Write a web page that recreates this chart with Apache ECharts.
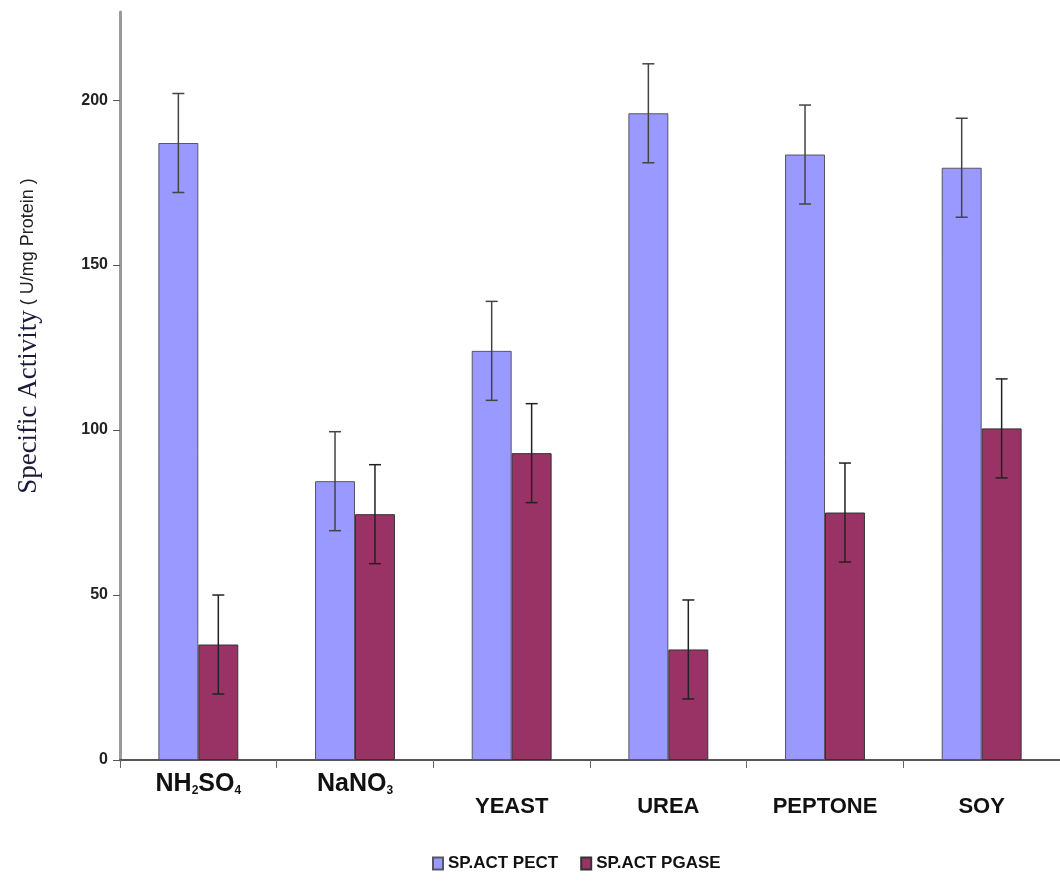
<!DOCTYPE html>
<html>
<head>
<meta charset="utf-8">
<script src="https://cdn.jsdelivr.net/npm/echarts@6/dist/echarts.min.js"></script>
<style>html,body{margin:0;padding:0;background:#fff}#c{width:1060px;height:886px}</style>
</head>
<body>
<div id="c"></div>
<script>
const categories = ['NH2SO4', 'NaNO3', 'YEAST', 'UREA', 'PEPTONE', 'SOY'];
const pectValues = [187, 84.5, 124, 196, 183.5, 179.5];
const pgaseValues = [35, 74.5, 93, 33.5, 75, 100.5];
const pectError = [15, 15, 15, 15, 15, 15];
const pgaseError = [15, 15, 15, 15, 15, 15];
const yTicks = [0, 50, 100, 150, 200];
const seriesNames = ['SP.ACT PECT', 'SP.ACT PGASE'];

const GAP = 0.49;
function errData(vals, errs) {
  return vals.map((v, i) => [i, v - errs[i], v + errs[i]]);
}
function errRender(side, color) {
  return function (params, api) {
    const idx = api.value(0);
    const band = api.size([1, 0])[0];
    const bw = band * (1 - GAP) / 2;
    const lo = api.coord([idx, api.value(1)]);
    const hi = api.coord([idx, api.value(2)]);
    const x = lo[0] + side * bw / 2;
    const cap = 6;
    const style = { stroke: color, lineWidth: 1.5 };
    return {
      type: 'group',
      children: [
        { type: 'line', shape: { x1: x, y1: lo[1], x2: x, y2: hi[1] }, style },
        { type: 'line', shape: { x1: x - cap, y1: lo[1], x2: x + cap, y2: lo[1] }, style },
        { type: 'line', shape: { x1: x - cap, y1: hi[1], x2: x + cap, y2: hi[1] }, style }
      ]
    };
  };
}

const SANS = 'Liberation Sans, Arial, sans-serif';
const chart = echarts.init(document.getElementById('c'), null, { renderer: 'canvas' });
chart.setOption({
  backgroundColor: '#ffffff',
  animation: false,
  legend: {
    data: seriesNames,
    left: 427,
    top: 850,
    itemWidth: 10,
    itemHeight: 12,
    itemGap: 22,
    icon: 'rect',
    textStyle: { fontFamily: SANS, fontWeight: 'bold', fontSize: 17, color: '#111' }
  },
  grid: { left: 120, top: 12, width: 944, height: 748 },
  xAxis: {
    type: 'category',
    data: categories,
    axisLine: { lineStyle: { color: '#555', width: 2 } },
    axisTick: { show: true, length: 8, lineStyle: { color: '#666', width: 1 } },
    axisLabel: {
      margin: 12,
      interval: 0,
      formatter: function (v) {
        if (v === 'NH2SO4') return '{m|NH}{s|2}{m|SO}{s|4}';
        if (v === 'NaNO3') return '{m|NaNO}{s|3}';
        return '{b|' + v + '}';
      },
      rich: {
        m: { fontFamily: SANS, fontWeight: 'bold', fontSize: 25, color: '#111' },
        s: { fontFamily: SANS, fontWeight: 'bold', fontSize: 12, color: '#111', verticalAlign: 'bottom' },
        b: { fontFamily: SANS, fontWeight: 'bold', fontSize: 22, color: '#111', padding: [24, 0, 0, 0] }
      }
    }
  },
  yAxis: {
    type: 'value',
    min: 0,
    max: 226.7,
    interval: 50,
    name: '{a|Specific Activity}{b| ( U/mg Protein )}',
    nameLocation: 'middle',
    nameGap: 78,
    nameRotate: 90,
    nameTextStyle: {
      rich: {
        a: { fontFamily: 'Liberation Serif, Times New Roman, serif', fontSize: 27, color: '#1a1a3a', padding: [0, 0, 0, 100] },
        b: { fontFamily: SANS, fontSize: 18, color: '#222' }
      }
    },
    splitLine: { show: false },
    axisLine: { show: true, lineStyle: { color: '#9a9a9a', width: 3 } },
    axisTick: { show: true, inside: false, length: 7, lineStyle: { color: '#555', width: 1 }, customValues: yTicks },
    axisLabel: {
      margin: 12,
      fontFamily: SANS,
      fontWeight: 'bold',
      fontSize: 16,
      color: '#222',
      customValues: yTicks
    }
  },
  series: [
    {
      name: seriesNames[0],
      type: 'bar',
      data: pectValues,
      barGap: '0%',
      barCategoryGap: (GAP * 100) + '%',
      itemStyle: { color: '#9999ff', borderColor: '#555566', borderWidth: 1 }
    },
    {
      name: seriesNames[1],
      type: 'bar',
      data: pgaseValues,
      barGap: '0%',
      barCategoryGap: (GAP * 100) + '%',
      itemStyle: { color: '#993366', borderColor: '#333333', borderWidth: 1 }
    },
    {
      type: 'custom',
      name: 'errPect',
      renderItem: errRender(-1, '#444'),
      data: errData(pectValues, pectError),
      z: 5
    },
    {
      type: 'custom',
      name: 'errPgase',
      renderItem: errRender(1, '#222'),
      data: errData(pgaseValues, pgaseError),
      z: 5
    }
  ]
});
</script>
</body>
</html>
